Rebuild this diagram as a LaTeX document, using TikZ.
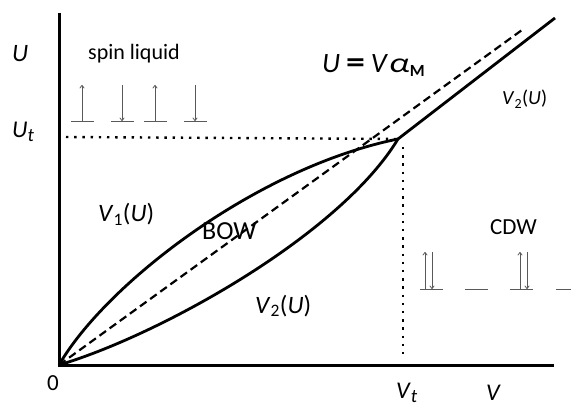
\documentclass[tikz,border=0pt]{standalone}
\usepackage{fontspec}
\usepackage{graphicx}
\setmainfont{Carlito}
\usetikzlibrary{arrows.meta}
\newcommand{\fsz}[1]{\fontsize{#1}{#1}\selectfont}
\begin{document}
\begin{tikzpicture}[x=1pt,y=-1pt,
  lbl/.style={anchor=base west,inner sep=0pt},
  axis/.style={line width=3pt},
  curve/.style={line width=2.8pt,line join=round},
  dashln/.style={line width=2.2pt,dash pattern=on 8pt off 4.5pt},
  dotln/.style={line width=2.4pt,dash pattern=on 2.4pt off 5.8pt},
  spin/.style={line width=0.8pt,black!65,-{To[length=3.5pt,width=5pt]}},
  level/.style={line width=0.8pt,black!65}]
\useasboundingbox (0,0) rectangle (571,409);
% axes
\coordinate (O) at (59,365);
\coordinate (Ytop) at (59,13);
\coordinate (Xend) at (554,365);
\draw[axis] (Ytop) -- (O) -- (Xend);
% triple point
\coordinate (T) at (398,139);
\coordinate (Tend) at (555,18);
\coordinate (Dend) at (522,30);
\coordinate (Uleft) at (66,137);
\coordinate (Vtop) at (403,147);
\coordinate (Vbot) at (403,356);
\draw[dotln] (Uleft) -- (T);
\draw[dotln] (Vtop) -- (Vbot);
\draw[dashln] (O) -- (Dend);
\draw[curve] (O) .. controls (105,285) and (255,168) .. (T);
\draw[curve] (O) .. controls (160,335) and (340,235) .. (T);
\draw[curve] (T) -- (Tend);
% spin liquid arrows
\foreach \x/\d in {82/1,122/0,155/1,195/0}{
  \draw[level] (\x-11,121) -- (\x+12,121);
  \ifnum\d=1 \draw[spin] (\x,121) -- (\x,85); \else \draw[spin] (\x,85) -- (\x,121); \fi
}
% CDW
\draw[level] (420,289) -- (443,289);
\draw[level] (465,289) -- (488,289);
\draw[level] (510,289) -- (533,289);
\draw[level] (556,289) -- (571,289);
\draw[spin] (425,289) -- (425,252);
\draw[spin] (432,252) -- (432,289);
\draw[spin] (520,289) -- (520,252);
\draw[spin] (527,252) -- (527,289);
% labels
\node[lbl,font=\fsz{25}] (lU) at (12,62) {\textit{U}};
\node[lbl,font=\fsz{24}] (lUt) at (12,138) {\textit{U}\raisebox{-4pt}{\fsz{19}\textit{t}}};
\node[lbl,font=\fsz{22}] (lsl) at (88,60) {spin liquid};
\node[lbl,font=\fsz{28}] (leq) at (322,73) {\textit{U}\hspace{6pt}\scalebox{1.35}[1.1]{\bfseries =}\hspace{6pt}\textit{V}\kern1pt\scalebox{1.3}[1]{\textit{α}}\raisebox{-4pt}{\fsz{17}\bfseries M}};
\node[lbl,font=\fsz{20}] (lV2r) at (502,105) {\textit{V}\textsubscript{2}(\textit{U})};
\node[lbl,font=\fsz{25}] (lV1) at (98,222) {\textit{V}\textsubscript{1}(\textit{U})};
\node[lbl,font=\fsz{26}] (lbow) at (202,240) {BOW};
\node[lbl,font=\fsz{25}] (lV2) at (255,313) {\textit{V}\textsubscript{2}(\textit{U})};
\node[lbl,font=\fsz{23}] (lcdw) at (490,235) {CDW};
\node[lbl,font=\fsz{23}] (l0) at (47,390) {0};
\node[lbl,font=\fsz{24}] (lVt) at (396,398) {\textit{V}\raisebox{-4pt}{\fsz{19}\textit{t}}};
\node[lbl,font=\fsz{24}] (lV) at (486,400) {\textit{V}};
\end{tikzpicture}
\end{document}
